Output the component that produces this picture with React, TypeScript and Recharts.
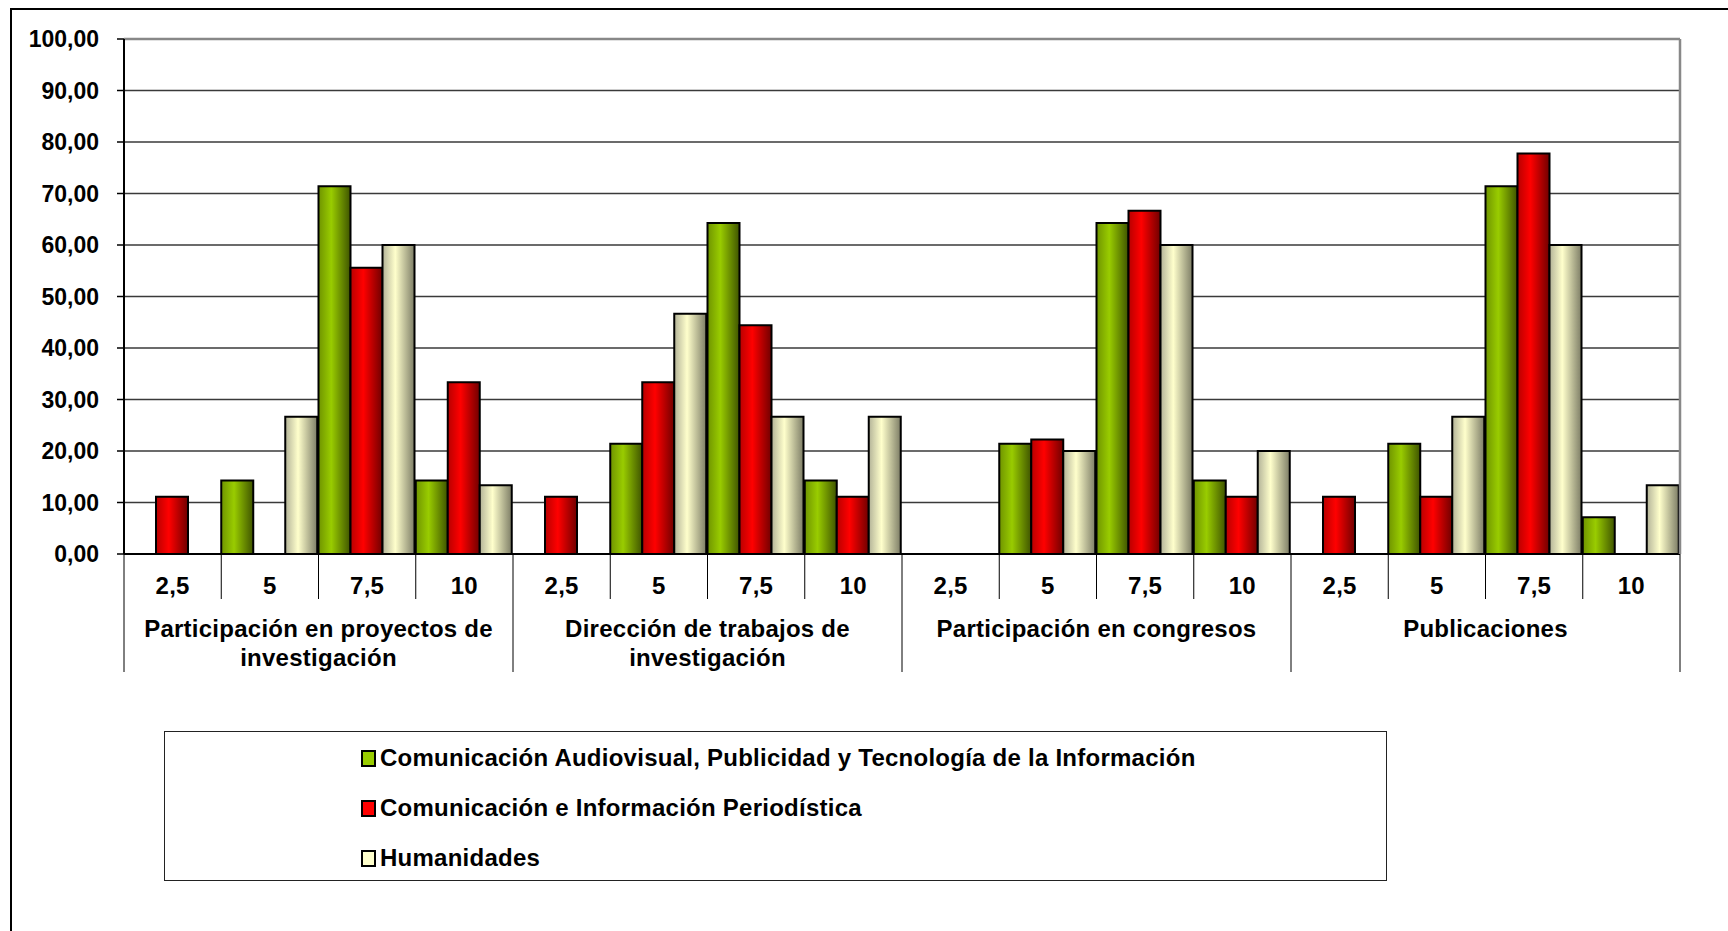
import React from "react";
import {
  BarChart,
  Bar,
  XAxis,
  YAxis,
  CartesianGrid,
  ReferenceLine,
  Legend,
} from "recharts";

// group labels (split the way the original wraps them)
const groupLines = [
  ["Participación en proyectos de", "investigación"],
  ["Dirección de trabajos de", "investigación"],
  ["Participación en congresos"],
  ["Publicaciones"],
];
const scores = ["2,5", "5", "7,5", "10"];

// % per group x score, 16 values each
const audiovisual = [0, 14.29, 71.43, 14.29, 0, 21.43, 64.29, 14.29, 0, 21.43, 64.29, 14.29, 0, 21.43, 71.43, 7.14];
const periodistica = [11.11, 0, 55.56, 33.33, 11.11, 33.33, 44.44, 11.11, 0, 22.22, 66.67, 11.11, 11.11, 11.11, 77.78, 0];
const humanidades = [0, 26.67, 60, 13.33, 0, 46.67, 26.67, 26.67, 0, 20, 60, 20, 0, 26.67, 60, 13.33];

const seriesNames = [
  "Comunicación Audiovisual, Publicidad y Tecnología de la Información",
  "Comunicación e Información Periodística",
  "Humanidades",
];
const yTicks = [0, 10, 20, 30, 40, 50, 60, 70, 80, 90, 100];

const swatch = ["#99cc00", "#ff0000", "#ffffcc"];

const data = audiovisual.map((v, i) => ({
  key: `${Math.floor(i / 4)}-${scores[i % 4]}`,
  audiovisual: v,
  periodistica: periodistica[i],
  humanidades: humanidades[i],
}));

const FONT = '"Liberation Sans", Arial, sans-serif';
const txt = { fontFamily: FONT, fontWeight: 700, fontSize: 24, letterSpacing: 0.25, fill: "#000" };

function CategoryTick(props: any) {
  const { x, y, payload, index } = props;
  const half = payload?.offset || 48.6;
  const left = x - half;
  const gi = Math.floor(index / 4);
  const first = index % 4 === 0;
  const last = index === data.length - 1;
  return (
    <g>
      <line x1={left} y1={y} x2={left} y2={y + (first ? 118 : 45)} stroke="#000" strokeWidth={1} />
      {last && <line x1={x + half} y1={y} x2={x + half} y2={y + 118} stroke="#000" strokeWidth={1} />}
      <text x={x} y={y + 31} textAnchor="middle" dominantBaseline="central" style={txt}>
        {scores[index % 4]}
      </text>
      {first &&
        groupLines[gi].map((l, k) => (
          <text
            key={k}
            x={left + half * 4}
            y={y + 74 + k * 29}
            textAnchor="middle"
            dominantBaseline="central"
            style={txt}
          >
            {l}
          </text>
        ))}
    </g>
  );
}

function LegendBox() {
  return (
    <div
      style={{
        width: 1223,
        height: 150,
        boxSizing: "border-box",
        border: "1.5px solid #222",
        position: "relative",
        fontFamily: FONT,
        fontWeight: 700,
        fontSize: 24,
        letterSpacing: 0.25,
        color: "#000",
      }}
    >
      {seriesNames.map((n, i) => (
        <div
          key={n}
          style={{
            position: "absolute",
            left: 196,
            top: 26 + i * 50 - 15,
            height: 30,
            display: "flex",
            alignItems: "center",
            whiteSpace: "nowrap",
          }}
        >
          <span
            style={{
              display: "inline-block",
              width: 11,
              height: 13,
              border: "2px solid #000",
              background: swatch[i],
              marginRight: 4,
            }}
          />
          {n}
        </div>
      ))}
    </div>
  );
}

export default function App() {
  return (
    <div style={{ position: "fixed", inset: 0, overflow: "hidden", background: "#fff" }}>
      <div
        style={{
          position: "absolute",
          left: 10,
          top: 8,
          width: 1800,
          height: 1000,
          border: "2px solid #000",
        }}
      />
      <div style={{ position: "absolute", left: 0, top: 0 }}>
        <BarChart
          width={1728}
          height={931}
          data={data}
          margin={{ top: 39, right: 47, left: 14, bottom: 257 }}
          barCategoryGap={0}
          barGap={0}
        >
          <defs>
            <linearGradient id="gGreen" x1="0" y1="0" x2="1" y2="0">
              <stop offset="0" stopColor="#6f9400" />
              <stop offset="0.4" stopColor="#99cc00" />
              <stop offset="1" stopColor="#3f5400" />
            </linearGradient>
            <linearGradient id="gRed" x1="0" y1="0" x2="1" y2="0">
              <stop offset="0" stopColor="#b80000" />
              <stop offset="0.4" stopColor="#ff0000" />
              <stop offset="1" stopColor="#700000" />
            </linearGradient>
            <linearGradient id="gCream" x1="0" y1="0" x2="1" y2="0">
              <stop offset="0" stopColor="#b3b398" />
              <stop offset="0.4" stopColor="#ffffcc" />
              <stop offset="1" stopColor="#7d7d66" />
            </linearGradient>
          </defs>
          <CartesianGrid vertical={false} stroke="#3a3a3a" strokeWidth={1.5} />
          <XAxis
            dataKey="key"
            interval={0}
            height={120}
            tickSize={0}
            tickMargin={0}
            tickLine={false}
            axisLine={{ stroke: "#000", strokeWidth: 2 }}
            tick={<CategoryTick />}
          />
          <YAxis
            domain={[0, 100]}
            ticks={yTicks}
            width={110}
            tickSize={7}
            tickMargin={18}
            tickLine={{ stroke: "#000", strokeWidth: 1.5 }}
            axisLine={{ stroke: "#000", strokeWidth: 2 }}
            tickFormatter={(v: number) => v.toFixed(2).replace(".", ",")}
            tick={{ ...txt, fontSize: 23, letterSpacing: 0 }}
          />
          <YAxis
            yAxisId="r"
            orientation="right"
            domain={[0, 100]}
            width={1}
            tick={false}
            tickLine={false}
            axisLine={{ stroke: "#888", strokeWidth: 2.5 }}
          />
          <ReferenceLine y={100} stroke="#888" strokeWidth={2.5} />
          <Bar dataKey="audiovisual" name={seriesNames[0]} fill="url(#gGreen)" stroke="#000" strokeWidth={2} isAnimationActive={false} />
          <Bar dataKey="periodistica" name={seriesNames[1]} fill="url(#gRed)" stroke="#000" strokeWidth={2} isAnimationActive={false} />
          <Bar dataKey="humanidades" name={seriesNames[2]} fill="url(#gCream)" stroke="#000" strokeWidth={2} isAnimationActive={false} />
          <Legend
            layout="horizontal"
            verticalAlign="middle"
            align="center"
            content={<LegendBox />}
            wrapperStyle={{ left: 164, top: 731, width: 1223, height: 150 }}
          />
        </BarChart>
      </div>
    </div>
  );
}
